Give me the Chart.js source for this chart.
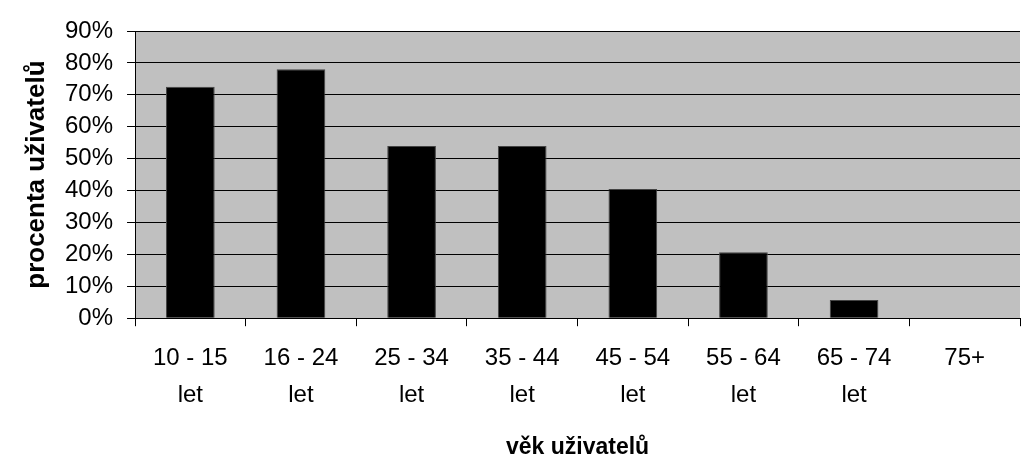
<!DOCTYPE html>
<html>
<head>
<meta charset="utf-8">
<script src="https://cdn.jsdelivr.net/npm/chart.js@4"></script>
<style>
  html, body { margin: 0; padding: 0; background: #fff; }
  #wrap { width: 1027px; height: 457px; }
</style>
</head>
<body>
<div id="wrap"><canvas id="graf"></canvas></div>
<script>
const kategorie = [
  ["10 - 15", "let"],
  ["16 - 24", "let"],
  ["25 - 34", "let"],
  ["35 - 44", "let"],
  ["45 - 54", "let"],
  ["55 - 64", "let"],
  ["65 - 74", "let"],
  "75+",
];
const podilUzivatelu = [72.5, 78, 54, 54, 40.5, 20.7, 5.7, 0];

// seda plocha za grafem
const pozadi = {
  id: "pozadi",
  beforeDraw(chart) {
    const a = chart.chartArea;
    const c = chart.ctx;
    c.save();
    c.fillStyle = "#c0c0c0";
    c.fillRect(a.left, a.top, a.right - a.left, a.bottom - a.top);
    c.restore();
  },
};

const pismo = "Liberation Sans, Arial, sans-serif";

new Chart(document.getElementById("graf"), {
  type: "bar",
  data: {
    labels: kategorie,
    datasets: [
      {
        data: podilUzivatelu,
        backgroundColor: "#000",
        borderColor: "#444",
        borderWidth: 1,
        barPercentage: 0.44,
        categoryPercentage: 1,
      },
    ],
  },
  options: {
    responsive: true,
    maintainAspectRatio: false,
    animation: false,
    layout: { padding: { left: 24, right: 7, top: 31, bottom: 0 } },
    plugins: { legend: { display: false }, tooltip: { enabled: false } },
    scales: {
      x: {
        grid: {
          offset: true,
          drawOnChartArea: false,
          color: "#000",
          tickLength: 8,
        },
        border: { color: "#000", width: 1 },
        ticks: {
          color: "#000",
          font: { family: pismo, size: 24, lineHeight: "37px" },
          maxRotation: 0,
          autoSkip: false,
          padding: 14,
        },
        title: {
          display: true,
          text: "věk uživatelů",
          color: "#000",
          font: { family: pismo, size: 23, weight: "bold", lineHeight: 0.6 },
          padding: { top: 13, bottom: 2 },
        },
      },
      y: {
        min: 0,
        max: 90,
        grid: { color: "#000", tickLength: 8 },
        border: { color: "#000", width: 1 },
        ticks: {
          stepSize: 10,
          autoSkip: false,
          color: "#000",
          font: { family: pismo, size: 24 },
          padding: 14,
          callback: (v) => v + "%",
        },
        title: {
          display: true,
          text: "procenta uživatelů",
          color: "#000",
          font: { family: pismo, size: 26, weight: "bold", lineHeight: 1 },
          padding: { top: 0, bottom: 1 },
        },
      },
    },
  },
  plugins: [pozadi],
});
</script>
</body>
</html>
